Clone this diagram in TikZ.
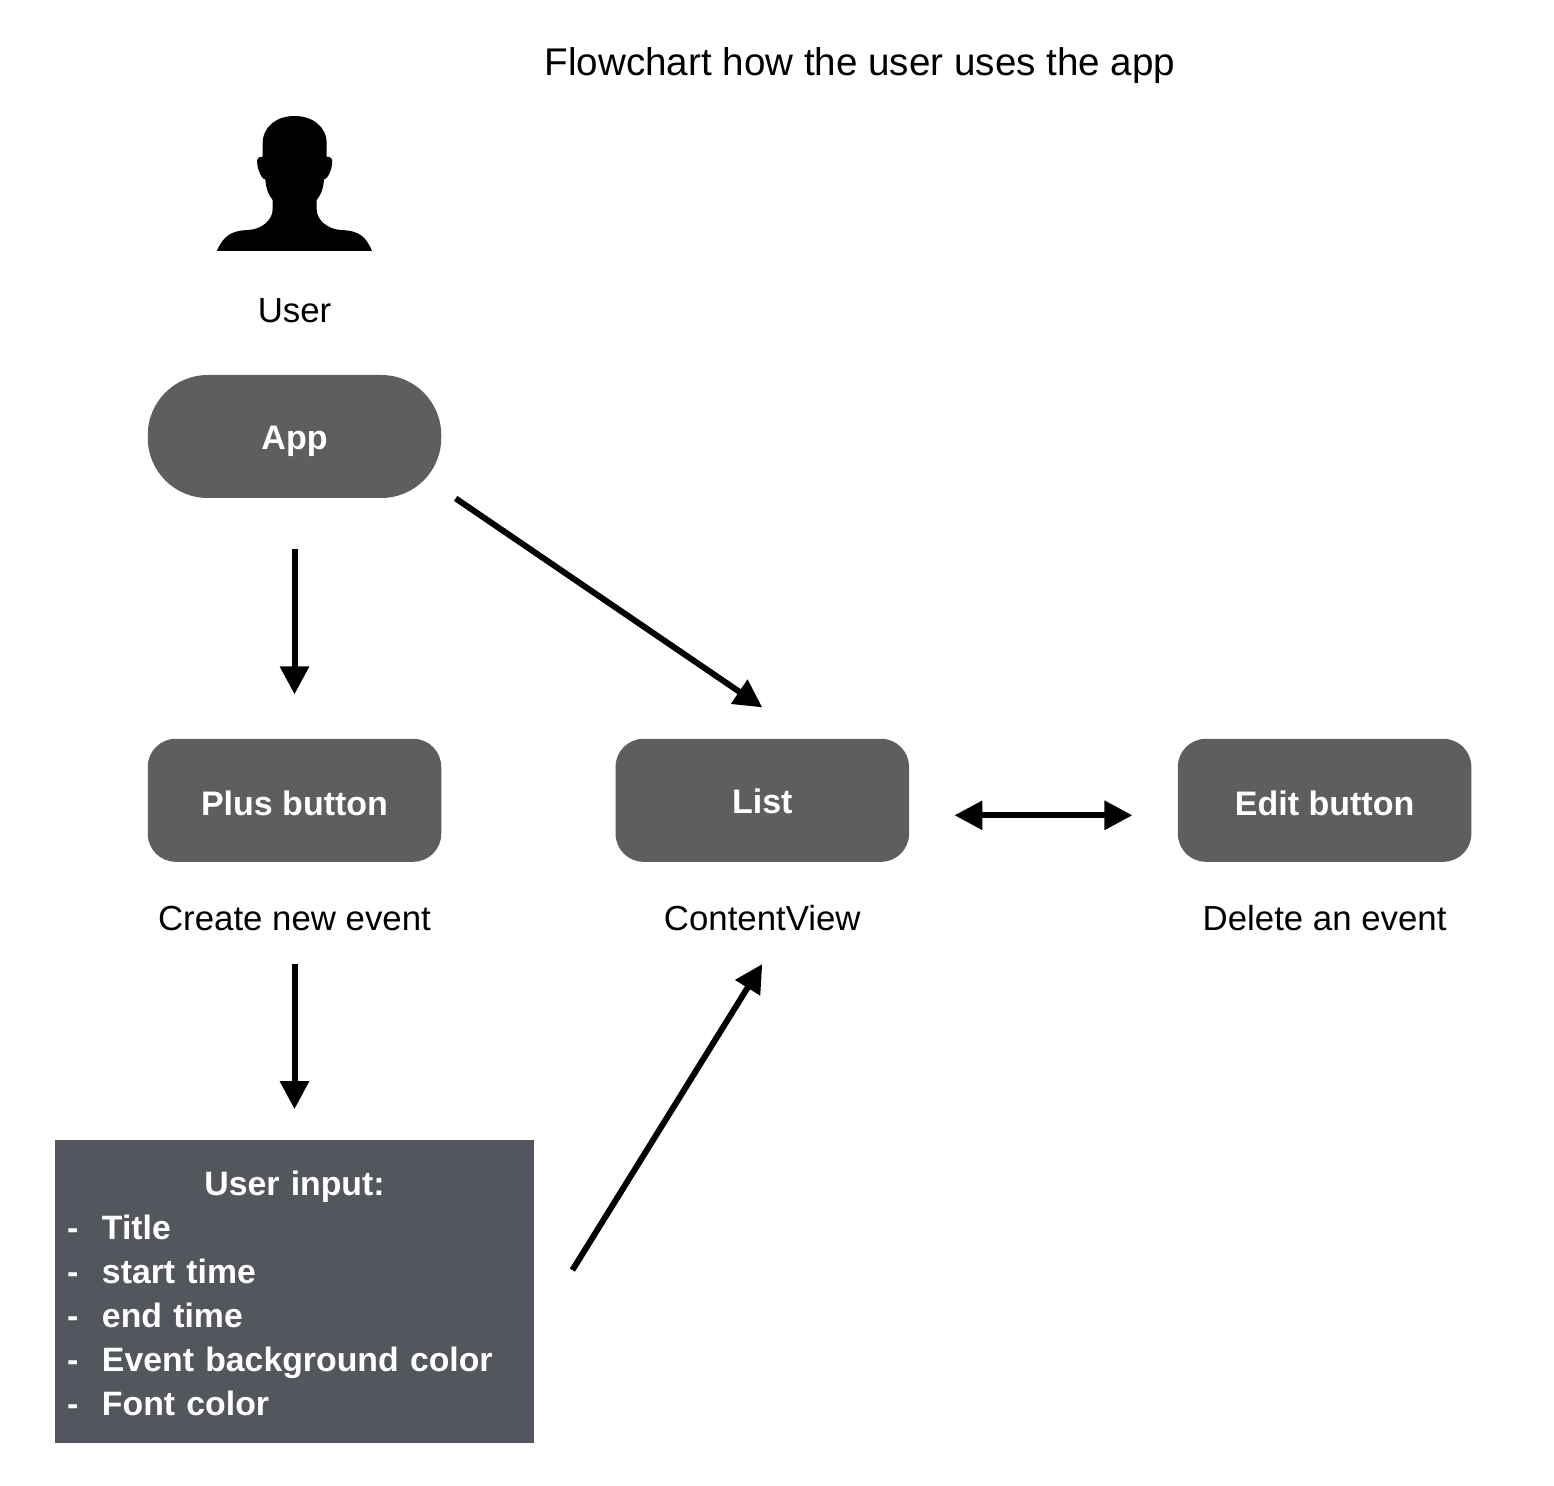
\documentclass[tikz,border=0pt]{standalone}
\usepackage{fontspec}
\setmainfont{Liberation Sans}
\usepackage{xcolor}
\usetikzlibrary{arrows.meta,positioning,calc}
\definecolor{boxgray}{HTML}{5E5E5E}
\definecolor{inputgray}{HTML}{53565D}
\newcommand{\listdash}{\makebox[17.5pt][l]{-}}

\begin{document}
\begin{tikzpicture}[
    x=0.5pt, y=-0.5pt,
    node distance=120pt and 86.75pt,
    box/.style={rectangle, fill=boxgray, rounded corners=14pt, minimum width=146.75pt, minimum height=61.5pt, align=center, text=white, text height=12.8pt, text depth=0pt, font=\fontsize{17}{20}\selectfont\bfseries},
    pill/.style={box, rounded corners=30pt},
    inputbox/.style={rectangle, fill=inputgray, text=white, text width=227.5pt, minimum height=151.5pt, inner xsep=6pt, inner ysep=0pt, align=left, font=\fontsize{16.9}{22}\selectfont\bfseries},
    caption/.style={font=\fontsize{17.4}{20}\selectfont, inner sep=0pt, text height=12.5pt, text depth=0pt},
    arrow/.style={{Triangle[length=14pt,width=14pt]}-{Triangle[length=14pt,width=14pt]}, line width=3pt},
    oneway/.style={-{Triangle[length=14pt,width=14pt]}, line width=3pt}
  ]
    \useasboundingbox (0,0) rectangle (1554,1486);

    % Title
    \node[font=\fontsize{19.3}{22}\selectfont, inner sep=0pt] (title) at (860,66) {Flowchart how the user uses the app};

    % Main nodes
    \node[pill] (app) at (294.5,436.5) {App};
    \node[box, text height=15.5pt, below=of app] (plus) {Plus button};
    \node[box, right=of plus] (list) {List};
    \node[box, text height=15.5pt, right=134pt of list] (edit) {Edit button};
    \node[inputbox, below=138.5pt of plus] (input) {\makebox[\linewidth]{\rule{0pt}{15pt}User input:}\\
      \listdash Title\\
      \listdash start time\\
      \listdash end time\\
      \listdash Event background color\\
      \listdash Font color};

    % Labels under the boxes
    \node[caption, below=21.5pt of plus] (plustext) {Create new event};
    \node[caption, below=21.5pt of list] (listtext) {ContentView};
    \node[caption, below=21.5pt of edit] (edittext) {Delete an event};
    \node[caption, above=26pt of app] (usertext) {User};

    % User icon
    \begin{scope}[shift={(190,100)}, x=0.16667pt, y=-0.16667pt]
      \fill (80,453) .. controls (100,410) and (120,392) .. (175,390)
        .. controls (215,388) and (248,360) .. (248,328)
        -- (248,300) .. controls (235,285) and (228,265) .. (226,238)
        .. controls (212,238) and (198,195) .. (202,178)
        .. controls (203,172) and (212,170) .. (218,170)
        -- (218,130) .. controls (218,80) and (260,48) .. (313,48)
        .. controls (368,48) and (410,80) .. (410,130)
        -- (410,170) .. controls (416,170) and (425,172) .. (426,178)
        .. controls (430,195) and (416,238) .. (402,238)
        .. controls (400,265) and (393,285) .. (380,300)
        -- (380,328) .. controls (380,360) and (413,388) .. (453,390)
        .. controls (508,392) and (528,410) .. (546,453) -- cycle;
    \end{scope}

    % Arrows
    \draw[oneway, shorten <=25.5pt, shorten >=22pt] (app) -- (plus);
    \draw[oneway] ([xshift=7pt]app.south east) -- ([yshift=15.5pt]list.north);
    \draw[oneway, shorten <=16.5pt, shorten >=15pt] (plustext) -- (input);
    \draw[oneway] ([shift={(19pt,10.5pt)}]input.east) -- ([yshift=-16.5pt]listtext.south);
    \draw[arrow] ([shift={(22.5pt,-7.5pt)}]list.east) -- ([shift={(-22.5pt,-7.5pt)}]edit.west);
  \end{tikzpicture}
\end{document}
